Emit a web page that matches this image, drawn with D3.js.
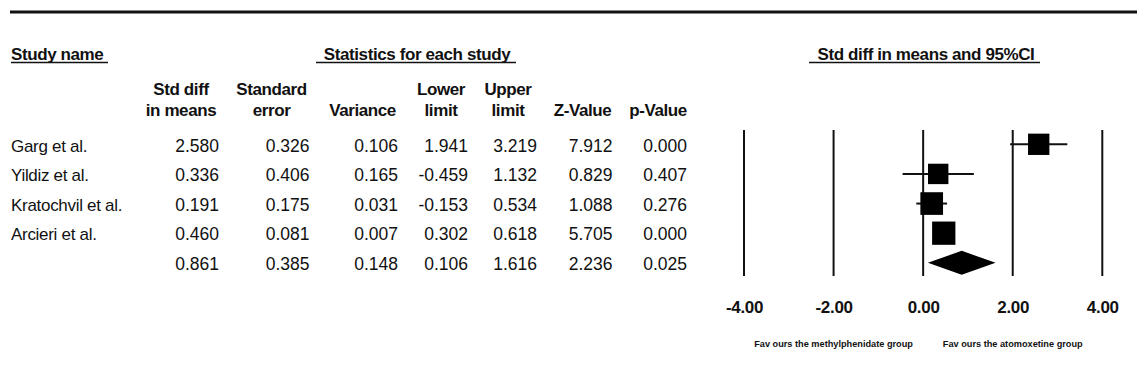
<!DOCTYPE html>
<html>
<head>
<meta charset="utf-8">
<script src="https://cdn.jsdelivr.net/npm/d3@7"></script>
<style>
  html, body { margin: 0; padding: 0; background: #fff; }
  svg { display: block; }
  text { font-family: "Liberation Sans", Arial, sans-serif; fill: #111; }
</style>
</head>
<body>
<svg id="chart" width="1137" height="383"></svg>
<script>
// ---------- data ----------
const studies   = ["Garg et al.", "Yildiz et al.", "Kratochvil et al.", "Arcieri et al."];
const stdDiff   = [2.580, 0.336, 0.191, 0.460];
const stdErr    = [0.326, 0.406, 0.175, 0.081];
const variance  = [0.106, 0.165, 0.031, 0.007];
const lowerLim  = [1.941, -0.459, -0.153, 0.302];
const upperLim  = [3.219, 1.132, 0.534, 0.618];
const zValue    = [7.912, 0.829, 1.088, 5.705];
const pValue    = [0.000, 0.407, 0.276, 0.000];
const relWeight = [23.5, 21.5, 26.5, 28.0];   // relative weights (box size)

const summaryStats = [0.861, 0.385, 0.148, 0.106, 1.616, 2.236, 0.025];

const colHeaders = [["Std diff", "in means"], ["Standard", "error"], ["", "Variance"],
                    ["Lower", "limit"], ["Upper", "limit"], ["", "Z-Value"], ["", "p-Value"]];
const axisTicks  = [-4, -2, 0, 2, 4];
const favourLabels = ["Fav ours the methylphenidate group", "Fav ours the atomoxetine group"];
const favourAt     = [-2, 2];

// ---------- layout ----------
const colRight  = [219, 309.5, 398, 468, 537, 612.5, 687];
const colHeadX  = [181, 271.5, 362.5, 441, 508, 582.5, 658];
const FS = 17;

const svg = d3.select("#chart");
const locale = d3.formatLocale({ decimal: ".", thousands: ",", grouping: [3], currency: ["", ""], minus: "-" });
const fmt = locale.format(".3f");
const fmt2 = locale.format(".2f");

// top rule
svg.append("line").attr("x1", 10).attr("x2", 1137).attr("y1", 12).attr("y2", 12)
  .attr("stroke", "#111").attr("stroke-width", 3);

// section titles with underline
function titled(txt, x, anchor, ulx1, ulx2) {
  svg.append("text").attr("x", x).attr("y", 59.5).attr("text-anchor", anchor)
    .attr("font-size", FS).attr("font-weight", "bold").attr("letter-spacing", -0.4).text(txt);
  svg.append("line").attr("x1", ulx1).attr("x2", ulx2).attr("y1", 62.5).attr("y2", 62.5)
    .attr("stroke", "#111").attr("stroke-width", 1.5);
}
titled("Study name", 11, "start", 11, 108);
titled("Statistics for each study", 417, "middle", 316, 516);
titled("Std diff in means and 95%CI", 926, "middle", 809, 1040);

// column headers
colHeaders.forEach((lines, i) => {
  lines.forEach((l, j) => {
    if (!l) return;
    svg.append("text").attr("x", colHeadX[i]).attr("y", j === 0 ? 95.3 : 116)
      .attr("text-anchor", "middle").attr("font-size", FS).attr("font-weight", "bold")
      .attr("letter-spacing", -0.4).text(l);
  });
});

// row scale
const y = d3.scaleLinear().domain([0, 4]).range([144.3, 262.8]);

// table body
const rows = studies.map((s, i) => ({
  name: s,
  vals: [stdDiff[i], stdErr[i], variance[i], lowerLim[i], upperLim[i], zValue[i], pValue[i]]
}));
rows.push({ name: "", vals: summaryStats });

rows.forEach((r, i) => {
  const by = y(i) + 7.3;
  svg.append("text").attr("x", 11).attr("y", by).attr("font-size", FS)
    .attr("letter-spacing", -0.3).text(r.name);
  r.vals.forEach((v, c) => {
    svg.append("text").attr("x", colRight[c]).attr("y", by).attr("text-anchor", "end")
      .attr("font-size", FS + 0.5).text(fmt(v));
  });
});

// forest plot
const x = d3.scaleLinear().domain([-4, 4]).range([744, 1102.3]);
const box = d3.scaleSqrt().domain([0, 30]).range([0, 24.1]);

const g = svg.append("g");
g.selectAll("line.grid").data(axisTicks).join("line").attr("class", "grid")
  .attr("x1", d => x(d)).attr("x2", d => x(d)).attr("y1", 130).attr("y2", 276)
  .attr("stroke", "#111").attr("stroke-width", 2);

const axis = d3.axisBottom(x).tickValues(axisTicks).tickFormat(fmt2).tickSize(0).tickPadding(0);
const ax = svg.append("g").attr("transform", "translate(0,300)").call(axis);
ax.select(".domain").remove();
ax.selectAll("text").attr("font-size", FS).attr("font-weight", "bold").attr("dy", 0)
  .attr("y", 12.5).attr("fill", "#111").attr("letter-spacing", -0.3)
  .style("font-family", '"Liberation Sans", Arial, sans-serif');

studies.forEach((s, i) => {
  g.append("line").attr("x1", x(lowerLim[i])).attr("x2", x(upperLim[i]))
    .attr("y1", y(i)).attr("y2", y(i)).attr("stroke", "#111").attr("stroke-width", 2);
  const w = box(relWeight[i]);
  g.append("rect").attr("x", x(stdDiff[i]) - w / 2).attr("y", y(i) - w / 2)
    .attr("width", w).attr("height", w).attr("fill", "#000");
});

// summary diamond
const sy = y(4);
g.append("path").attr("d", d3.line()([
  [x(summaryStats[3]), sy], [x(summaryStats[0]), sy - 12],
  [x(summaryStats[4]), sy], [x(summaryStats[0]), sy + 12]]) + "Z").attr("fill", "#000");

// favour labels
favourLabels.forEach((t, i) => {
  svg.append("text").attr("x", x(favourAt[i])).attr("y", 347).attr("text-anchor", "middle")
    .attr("font-size", 9.2).attr("font-weight", "bold").text(t);
});
</script>
</body>
</html>
